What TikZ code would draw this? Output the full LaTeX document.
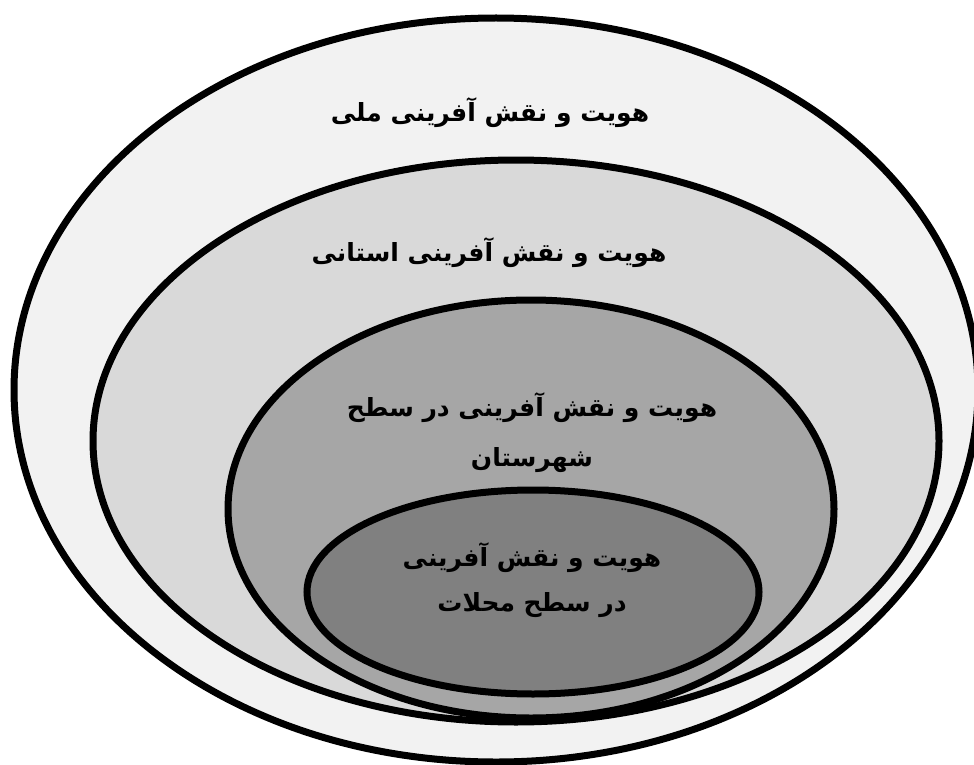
\documentclass[tikz,border=0pt]{standalone}
\usepackage{fontspec}
\newfontfamily\arabicfont[Script=Arabic]{DejaVu Sans}
\TeXXeTstate=1
\usetikzlibrary{shapes.geometric}
\definecolor{ringA}{HTML}{F2F2F2}
\definecolor{ringB}{HTML}{D9D9D9}
\definecolor{ringC}{HTML}{A6A6A6}
\definecolor{ringD}{HTML}{808080}
\begin{document}
\begin{tikzpicture}[x=1pt,y=-1pt,
  ring/.style={ellipse, draw=black, line width=7pt, inner sep=0pt},
  lbl/.style={font=\arabicfont\bfseries\fontsize{25}{30}\selectfont, align=center, inner sep=0pt}]
\useasboundingbox[fill=white] (0,0) rectangle (974,765);
\node[ring, fill=ringA, minimum width=964pt, minimum height=744pt] (l1) at (496,390) {};
\node[ring, fill=ringB, minimum width=846pt, minimum height=562pt] (l2) at (516,441) {};
\node[ring, fill=ringC, minimum width=606pt, minimum height=418pt] (l3) at (531,509) {};
\node[ring, fill=ringD, minimum width=452pt, minimum height=204pt] (l4) at (533,592) {};
\node[lbl] (t1) at (490,113) {\beginR هویت و نقش آفرینی ملی\endR};
\node[lbl] (t2) at (489,253) {\beginR هویت و نقش آفرینی استانی\endR};
\node[lbl, font=\arabicfont\bfseries\fontsize{25}{50}\selectfont] (t3) at (532,433) {\beginR هویت و نقش آفرینی در سطح\endR\\\beginR شهرستان\endR};
\node[lbl, font=\arabicfont\bfseries\fontsize{25}{45}\selectfont] (t4) at (532,580) {\beginR هویت و نقش آفرینی\endR\\\beginR در سطح محلات\endR};
\end{tikzpicture}
\end{document}
